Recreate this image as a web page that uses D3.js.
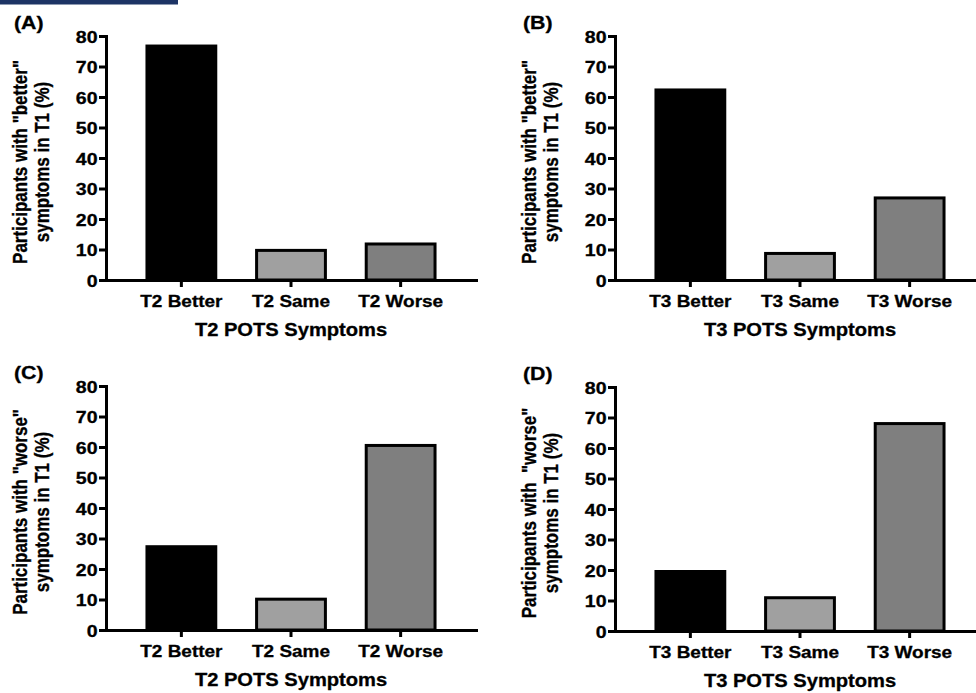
<!DOCTYPE html>
<html>
<head>
  <meta charset="utf-8">
  <script src="https://cdn.jsdelivr.net/npm/d3@7"></script>
  <style>
    body { margin: 0; background: #fff; }
    svg text { font-family: "Liberation Sans", Arial, Helvetica, sans-serif; font-weight: bold; fill: #000;
               stroke: #000; stroke-width: 0.3px; }
  </style>
</head>
<body>
<script>
  // chart values
  var panelLabels = ["(A)", "(B)", "(C)", "(D)"];
  var categoriesT2 = ["T2 Better", "T2 Same", "T2 Worse"];
  var categoriesT3 = ["T3 Better", "T3 Same", "T3 Worse"];
  var xTitles = ["T2 POTS Symptoms", "T3 POTS Symptoms", "T2 POTS Symptoms", "T3 POTS Symptoms"];
  var yTitleLine1 = ['Participants with "better"', 'Participants with "better"',
                     'Participants with "worse"', 'Participants with  "worse"'];
  var yTitleLine2 = "symptoms in T1 (%)";
  var valuesA = [77.2, 10.2, 12.3];
  var valuesB = [62.8, 9.2, 27.4];
  var valuesC = [27.8, 10.6, 61.0];
  var valuesD = [20.0, 11.4, 68.5];
  var yTicks = [0, 10, 20, 30, 40, 50, 60, 70, 80];
  var barColors = ["#000000", "#a0a0a0", "#7f7f7f"];

  var panels = [
    { label: panelLabels[0], cats: categoriesT2, values: valuesA, xTitle: xTitles[0], yTitle: yTitleLine1[0], ox: 0,   oy: 0 },
    { label: panelLabels[1], cats: categoriesT3, values: valuesB, xTitle: xTitles[1], yTitle: yTitleLine1[1], ox: 509, oy: 0 },
    { label: panelLabels[2], cats: categoriesT2, values: valuesC, xTitle: xTitles[2], yTitle: yTitleLine1[2], ox: 0,   oy: 350 },
    { label: panelLabels[3], cats: categoriesT3, values: valuesD, xTitle: xTitles[3], yTitle: yTitleLine1[3], ox: 509, oy: 351 }
  ];

  var W = 976, H = 693;
  var stretch = 1.15;   // text in the figure is a bit wider than normal

  var svg = d3.select("body").append("svg")
      .attr("width", W)
      .attr("height", H);

  // navy strip at the top left
  svg.append("rect")
      .attr("x", 0).attr("y", 0)
      .attr("width", 178).attr("height", 4.5)
      .attr("fill", "#1d3465");

  panels.forEach(function (p) {
    var left = p.ox + 106, right = p.ox + 476,
        top = p.oy + 36, bottom = p.oy + 280;

    var x = d3.scaleBand()
        .domain(p.cats)
        .range([left, right])
        .paddingInner(0.345)
        .paddingOuter(0.36);

    var y = d3.scaleLinear()
        .domain([0, 80])
        .range([bottom, top]);

    var g = svg.append("g");

    // bars, stroke kept inside the bar outline
    g.selectAll("rect.bar")
      .data(p.values)
      .enter()
      .append("rect")
        .attr("class", "bar")
        .attr("x", function (d, i) { return x(p.cats[i]) + 1.5; })
        .attr("y", function (d) { return y(d) + 1.5; })
        .attr("width", x.bandwidth() - 3)
        .attr("height", function (d) { return bottom - y(d) - 1.5; })
        .attr("fill", function (d, i) { return barColors[i]; })
        .attr("stroke", "#000")
        .attr("stroke-width", 3);

    // y axis
    var yAxis = g.append("g")
        .attr("transform", "translate(" + left + ",0)")
        .call(d3.axisLeft(y).tickValues(yTicks).tickSize(7).tickSizeOuter(0).tickPadding(3));

    // x axis
    var xAxis = g.append("g")
        .attr("transform", "translate(0," + bottom + ")")
        .call(d3.axisBottom(x).tickSize(7).tickSizeOuter(0));

    [yAxis, xAxis].forEach(function (a) {
      a.select(".domain").attr("stroke", "#000").attr("stroke-width", 3).attr("stroke-linecap", "square");
      a.selectAll(".tick line").attr("stroke", "#000").attr("stroke-width", 3);
    });

    yAxis.selectAll(".tick text")
        .attr("font-size", 17)
        .attr("x", null)
        .attr("dy", "0.36em")
        .attr("transform", "translate(-8.5,0) scale(" + stretch + ",1)");

    xAxis.selectAll(".tick text")
        .attr("font-size", 16.5)
        .attr("y", 27)
        .attr("dy", null)
        .attr("transform", "scale(" + stretch + ",1)");

    // axis titles
    g.append("text")
        .attr("text-anchor", "middle")
        .attr("font-size", 17.5)
        .attr("transform", "translate(" + ((left + right) / 2) + "," + (p.oy + 336) + ") scale(" + stretch + ",1)")
        .text(p.xTitle);

    var yt = g.append("text")
        .attr("text-anchor", "middle")
        .attr("font-size", 17)
        .style("white-space", "pre")
        .attr("transform", "translate(" + (p.ox + 27) + "," + (p.oy + 162) + ") scale(" + stretch + ",1) rotate(-90)");
    yt.append("tspan").attr("x", 0).attr("y", 0).text(p.yTitle);
    yt.append("tspan").attr("x", 0).attr("y", 22 / stretch).text(yTitleLine2);

    // panel letter
    g.append("text")
        .attr("font-size", 18.5)
        .attr("transform", "translate(" + (p.ox + 14) + "," + (p.oy + 28.5) + ") scale(" + stretch + ",1)")
        .text(p.label);
  });
</script>
</body>
</html>
